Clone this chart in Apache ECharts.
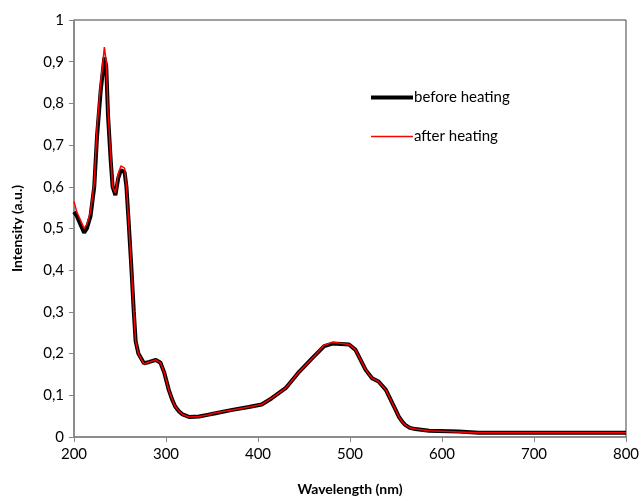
<!DOCTYPE html>
<html>
<head>
<meta charset="utf-8">
<script src="https://cdn.jsdelivr.net/npm/echarts@6/dist/echarts.min.js"></script>
<style>
  html, body { margin: 0; padding: 0; background: #fff; }
  #chart { width: 643px; height: 501px; }
</style>
</head>
<body>
<div id="chart"></div>
<script>
// ========== 数据 ==========
const wavelengths = [
  200, 203, 207, 211, 214, 218, 222, 225, 229, 231, 233, 235, 237, 240, 242,
  245, 248, 251, 255, 257, 259, 262, 265, 267, 270, 276, 282, 289, 294, 298,
  303, 307, 310, 314, 318, 325, 336, 345, 354, 372, 390, 404, 415, 430, 445,
  459, 472, 481, 499, 506, 517, 524, 531, 539, 546, 550, 553, 557, 560, 565,
  571, 586, 618, 640, 800,
];
const beforeHeating = [
  0.54, 0.53, 0.51, 0.49, 0.5, 0.53, 0.6, 0.72, 0.83, 0.87, 0.91, 0.89, 0.77,
  0.66, 0.6, 0.58, 0.62, 0.64, 0.635, 0.6, 0.53, 0.42, 0.3, 0.23, 0.2, 0.177,
  0.18, 0.185, 0.178, 0.155, 0.113, 0.088, 0.073, 0.062, 0.054, 0.048, 0.049,
  0.053, 0.057, 0.065, 0.072, 0.078, 0.093, 0.117, 0.157, 0.189, 0.218, 0.224,
  0.222, 0.209, 0.161, 0.141, 0.133, 0.113, 0.081, 0.063, 0.049, 0.036, 0.029,
  0.022, 0.019, 0.015, 0.013, 0.01, 0.01,
];
const afterHeating = [
  0.565, 0.54, 0.52, 0.5, 0.51, 0.54, 0.61, 0.74, 0.85, 0.89, 0.935, 0.9,
  0.78, 0.67, 0.6, 0.585, 0.63, 0.65, 0.645, 0.6, 0.53, 0.42, 0.3, 0.23, 0.2,
  0.175, 0.18, 0.185, 0.178, 0.155, 0.113, 0.088, 0.073, 0.062, 0.054, 0.048,
  0.049, 0.053, 0.058, 0.065, 0.072, 0.078, 0.093, 0.117, 0.157, 0.189, 0.22,
  0.227, 0.222, 0.209, 0.161, 0.141, 0.133, 0.113, 0.081, 0.063, 0.049, 0.036,
  0.029, 0.022, 0.019, 0.015, 0.012, 0.01, 0.01,
];
const seriesNames = ["before heating", "after heating"];

const FONT = "Lato, 'Open Sans', sans-serif";

function pairs(vals) {
  return wavelengths.map((w, i) => [w, vals[i]]);
}

// y 轴用逗号作小数点
function commaLabel(v) {
  if (v === 0) return "0";
  if (v === 1) return "1";
  return v.toFixed(1).replace(".", ",");
}

const chart = echarts.init(document.getElementById("chart"));

chart.setOption({
  animation: false,
  backgroundColor: "#fff",
  grid: {
    left: 74,
    right: 17,
    top: 20,
    bottom: 64,
    show: true,
    borderColor: "#404040",
    borderWidth: 1,
  },
  legend: [
    {
      data: [seriesNames[0]],
      left: 366,
      top: 85,
      icon: "rect",
      itemWidth: 42,
      itemHeight: 4,
      textStyle: { fontFamily: FONT, fontSize: 15, color: "#000", padding: [0, 0, 0, -4] },
    },
    {
      data: [seriesNames[1]],
      left: 366,
      top: 124,
      icon: "rect",
      itemWidth: 42,
      itemHeight: 1.5,
      textStyle: { fontFamily: FONT, fontSize: 15, color: "#000", padding: [0, 0, 0, -4] },
    },
  ],
  xAxis: {
    type: "value",
    min: 200,
    max: 800,
    interval: 100,
    name: "Wavelength (nm)",
    nameLocation: "middle",
    nameGap: 45,
    nameTextStyle: { fontFamily: FONT, fontSize: 14, fontWeight: "bold", color: "#000" },
    axisLine: { lineStyle: { color: "#868686", width: 1.5 } },
    axisTick: { show: true, length: 5, lineStyle: { color: "#868686" } },
    axisLabel: { fontFamily: FONT, fontSize: 15, color: "#000", margin: 10 },
    splitLine: { show: false },
  },
  yAxis: {
    type: "value",
    min: 0,
    max: 1,
    interval: 0.1,
    name: "Intensity (a.u.)",
    nameLocation: "middle",
    nameGap: 50,
    nameTextStyle: { fontFamily: FONT, fontSize: 14, fontWeight: "bold", color: "#000" },
    axisLine: { show: true, lineStyle: { color: "#868686", width: 1.5 } },
    axisTick: { show: true, length: 5, lineStyle: { color: "#868686" } },
    axisLabel: { fontFamily: FONT, fontSize: 15, color: "#000", margin: 10, formatter: commaLabel },
    splitLine: { show: false },
  },
  series: [
    {
      name: seriesNames[0],
      type: "line",
      data: pairs(beforeHeating),
      showSymbol: false,
      lineStyle: { color: "#000", width: 4 },
      itemStyle: { color: "#000" },
    },
    {
      name: seriesNames[1],
      type: "line",
      data: pairs(afterHeating),
      showSymbol: false,
      lineStyle: { color: "#ff0000", width: 1.5 },
      itemStyle: { color: "#ff0000" },
    },
  ],
});

window.addEventListener("resize", () => chart.resize());
</script>
</body>
</html>
